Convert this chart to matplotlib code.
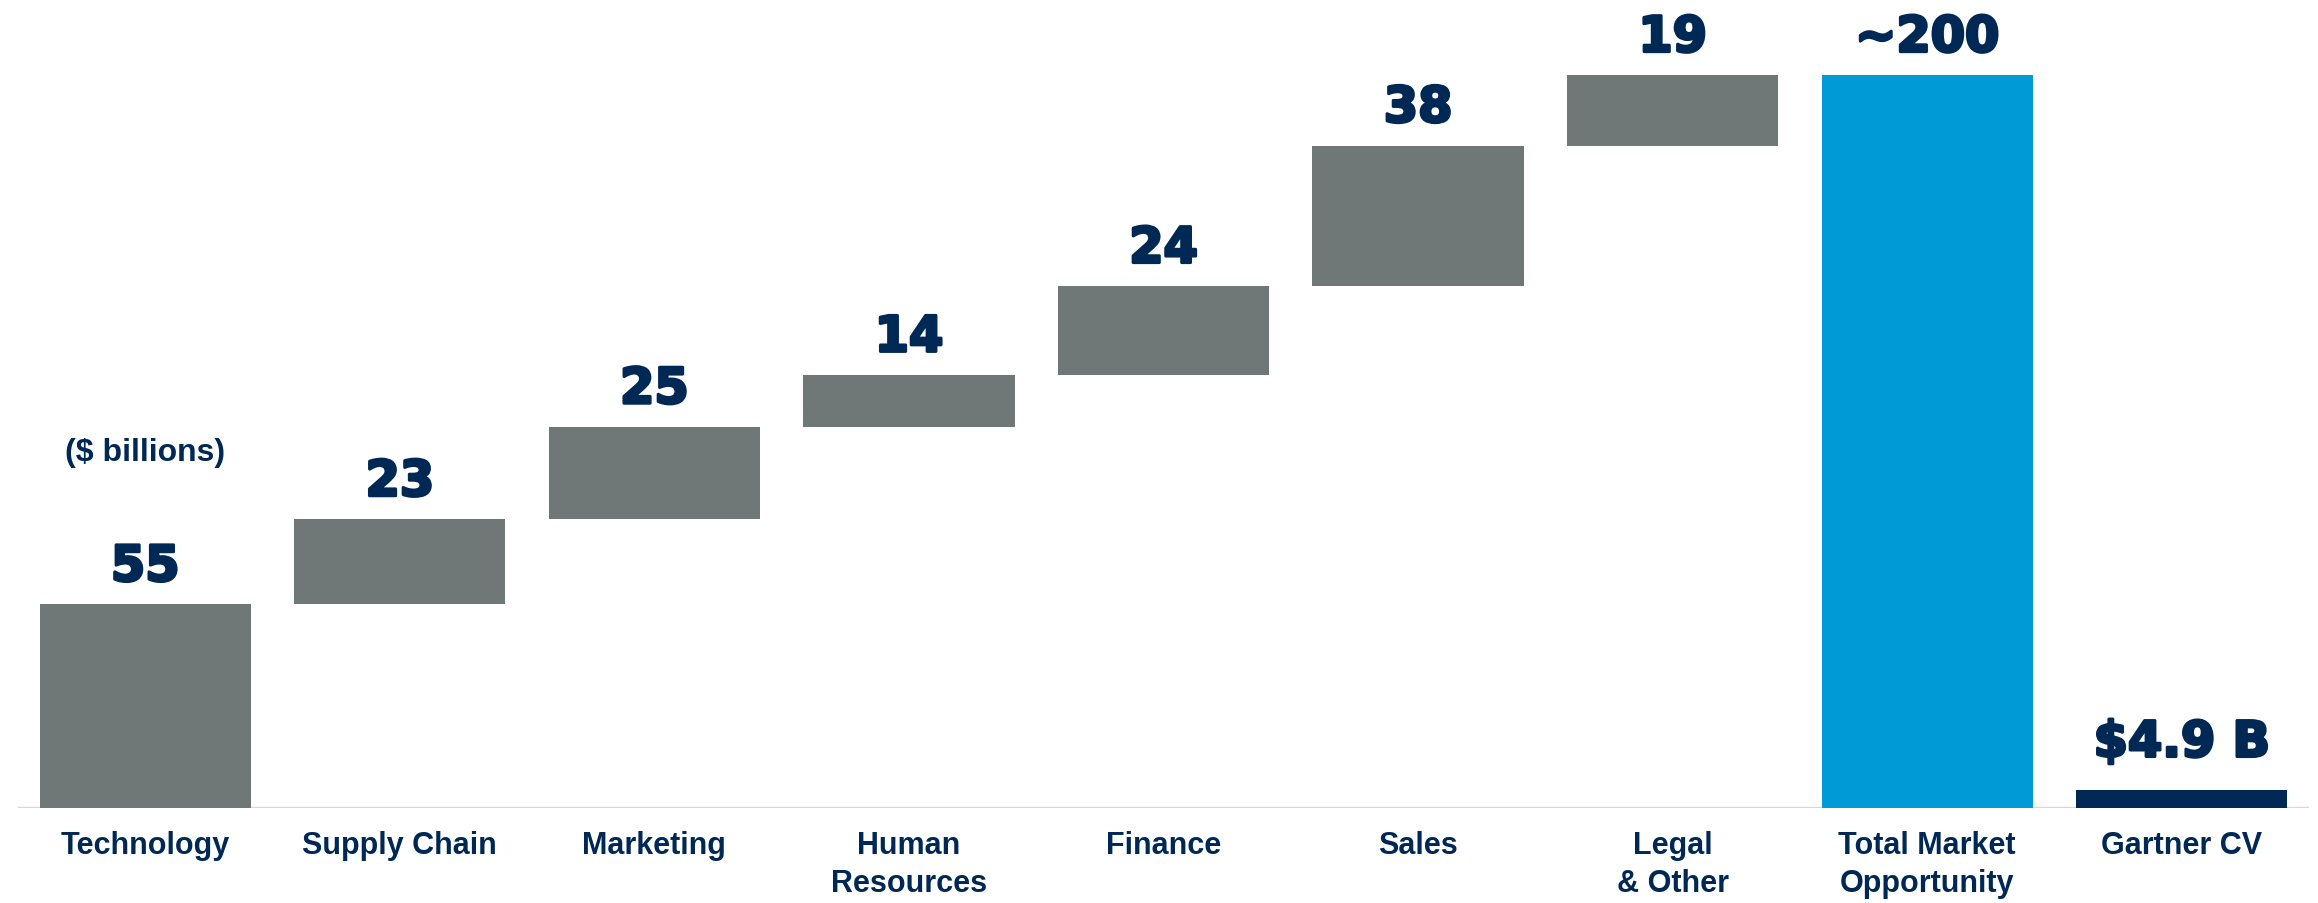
import matplotlib.pyplot as plt
import matplotlib.patheffects as pe
import numpy as np

plt.rcParams['font.family'] = ['Liberation Sans', 'DejaVu Sans']

# Market opportunity by function ($ billions)
categories = ['Technology', 'Supply Chain', 'Marketing', 'Human\nResources',
              'Finance', 'Sales', 'Legal\n& Other']
segment_values = [55, 23, 25, 14, 24, 38, 19]
total_label = '~200'
gartner_value = 4.9
gartner_label = '$4.9 B'
all_labels = categories + ['Total Market\nOpportunity', 'Gartner CV']

GREY = '#6f7777'
BLUE = '#009bd6'
NAVY = '#002855'

fig = plt.figure(figsize=(23.18, 9.04), dpi=100)
ax = fig.add_axes([18 / 2318, 95 / 904, (2309 - 18) / 2318, 809 / 904])

n = len(segment_values)
x = np.arange(n + 2)
width = 0.83

# floating waterfall segments
bottoms = np.concatenate([[0], np.cumsum(segment_values)[:-1]])
ax.bar(x[:n], segment_values, bottom=bottoms, width=width, color=GREY, zorder=2)

total = sum(segment_values)
ax.bar(x[n], total, width=width, color=BLUE, zorder=2)
ax.bar(x[n + 1], gartner_value, width=width, color=NAVY, zorder=2)

# heavy, wide face for the value callouts (stroke thickens the glyphs)
heavy = [pe.withStroke(linewidth=2.2, foreground=NAVY)]
label_kw = dict(ha='center', va='baseline', fontsize=35.5, fontweight='bold',
                family=['DejaVu Sans'], color=NAVY, textcoords='offset points',
                path_effects=heavy)
for xi, b, v in zip(x[:n], bottoms, segment_values):
    ax.annotate(f'{v}', (xi, b + v), xytext=(0, 17), **label_kw)
ax.annotate(total_label, (x[n], total), xytext=(0, 17), **label_kw)
ax.annotate(gartner_label, (x[n + 1], gartner_value), xytext=(0, 24), **label_kw)

ax.text(0, 94, '($ billions)', ha='center', va='baseline', fontsize=23,
        fontweight='bold', color=NAVY)

ax.axhline(0, color='#d9d9d9', lw=2.5, zorder=1)

ax.set_xlim(-0.5, n + 1.5)
ax.set_ylim(0, 218.6)
ax.set_xticks(x)
ax.set_xticklabels(all_labels, fontsize=22, fontweight='bold', color=NAVY,
                   va='top', linespacing=1.35)
ax.tick_params(axis='x', length=0, pad=16)
ax.set_yticks([])
for s in ax.spines.values():
    s.set_visible(False)

fig.savefig('out.png', dpi=100, facecolor='white')
